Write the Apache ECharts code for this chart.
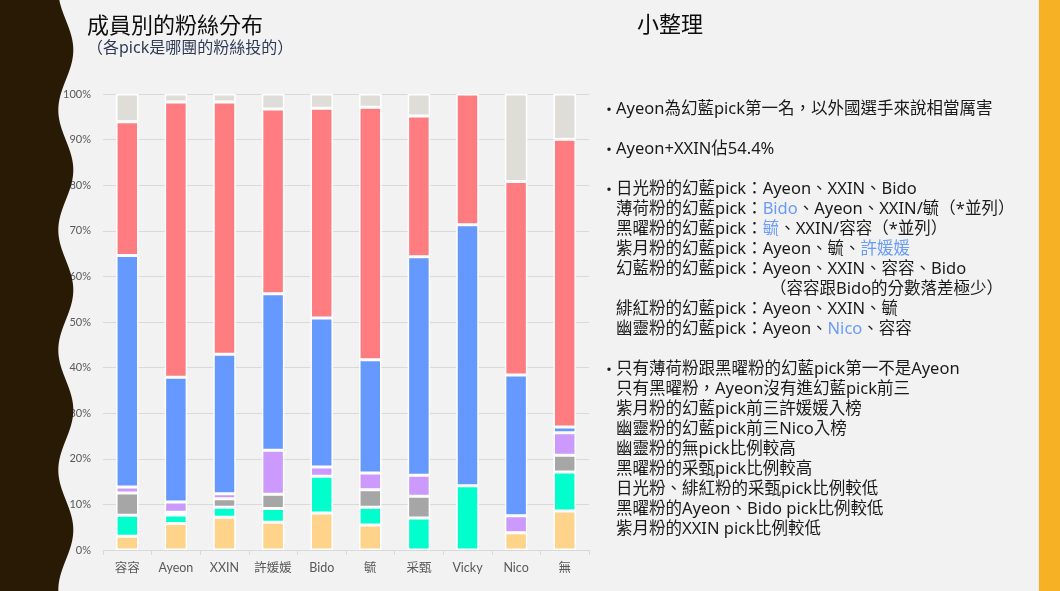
<!DOCTYPE html>
<html>
<head>
<meta charset="utf-8">
<script src="https://cdn.jsdelivr.net/npm/echarts@6/dist/echarts.min.js"></script>
<style>
  html, body { margin: 0; padding: 0; background: #F2F2F2; }
  #main { width: 1060px; height: 591px; }
</style>
</head>
<body>
<div id="main"></div>
<script>
// 成員（x軸）
var members = ['容容', 'Ayeon', 'XXIN', '許媛媛', 'Bido', '毓', '采甄', 'Vicky', 'Nico', '無']

// 各粉絲團的pick比例（%），由下往上堆疊
var groupNames = ['日光粉', '薄荷粉', '黑曜粉', '紫月粉', '幻藍粉', '緋紅粉', '幽靈粉']
var sunFans = [3.0, 5.8, 7.2, 6.1, 8.1, 5.5, 0, 0, 3.8, 8.55]
var mintFans = [4.6, 1.9, 2.2, 3.0, 8.1, 3.9, 7.0, 14.1, 0, 8.55]
var obsidianFans = [4.9, 0.6, 1.85, 3.1, 0, 3.8, 4.8, 0, 0, 3.7]
var violetFans = [1.3, 2.2, 1.1, 9.7, 2.0, 3.7, 4.6, 0, 3.7, 4.9]
var blueFans = [50.8, 27.4, 30.6, 34.3, 32.7, 24.8, 47.9, 57.2, 30.9, 1.3]
var redFans = [29.3, 60.35, 55.3, 40.5, 46.0, 55.4, 30.9, 28.7, 42.4, 63.1]
var ghostFans = [6.1, 1.75, 1.75, 3.3, 3.1, 2.9, 4.8, 0, 19.2, 9.9]
var groupValues = [sunFans, mintFans, obsidianFans, violetFans, blueFans, redFans, ghostFans]
var groupColors = ['#FFD38A', '#00FFCC', '#A6A6A6', '#CC99FF', '#6699FF', '#FF7C80', '#DEDDD8']

// y軸刻度
var yTicks = [0, 10, 20, 30, 40, 50, 60, 70, 80, 90, 100]

// 右側「小整理」文字，{b|...} 為藍色標示
var notes = [
  { bullet: true, y: 109, text: 'Ayeon為幻藍pick第一名，以外國選手來說相當厲害' },
  { bullet: true, y: 149, text: 'Ayeon+XXIN佔54.4%' },
  { bullet: true, y: 189, text: '日光粉的幻藍pick：Ayeon、XXIN、Bido' },
  { y: 209, text: '薄荷粉的幻藍pick：{b|Bido}、Ayeon、XXIN/毓（*並列）' },
  { y: 229, text: '黑曜粉的幻藍pick：{b|毓}、XXIN/容容（*並列）' },
  { y: 249, text: '紫月粉的幻藍pick：Ayeon、毓、{b|許媛媛}' },
  { y: 269, text: '幻藍粉的幻藍pick：Ayeon、XXIN、容容、Bido' },
  { y: 289, x: 770, text: '（容容跟Bido的分數落差極少）' },
  { y: 309, text: '緋紅粉的幻藍pick：Ayeon、XXIN、毓' },
  { y: 329, text: '幽靈粉的幻藍pick：Ayeon、{b|Nico}、容容' },
  { bullet: true, y: 369, text: '只有薄荷粉跟黑曜粉的幻藍pick第一不是Ayeon' },
  { y: 389, text: '只有黑曜粉，Ayeon沒有進幻藍pick前三' },
  { y: 409, text: '紫月粉的幻藍pick前三許媛媛入榜' },
  { y: 429, text: '幽靈粉的幻藍pick前三Nico入榜' },
  { y: 449, text: '幽靈粉的無pick比例較高' },
  { y: 469, text: '黑曜粉的采甄pick比例較高' },
  { y: 489, text: '日光粉、緋紅粉的采甄pick比例較低' },
  { y: 509, text: '黑曜粉的Ayeon、Bido pick比例較低' },
  { y: 529, text: '紫月粉的XXIN pick比例較低' }
]

var cjk = '"Noto Sans CJK TC"'
var mixed = '"Noto Sans", "Noto Sans CJK TC"'
var chart = echarts.init(document.getElementById('main'))

// 左側波浪裝飾
var wave = []
for (var wy = -6; wy <= 600; wy += 3) {
  wave.push([65.8 + 7.5 * Math.cos(2 * Math.PI * (wy - 50) / 120), wy])
}
wave.push([0, 600])
wave.push([0, -6])

var graphics = [
  {
    type: 'polygon',
    z: 100,
    shape: { points: wave },
    style: { fill: '#281A04' }
  },
  {
    type: 'rect',
    z: 100,
    shape: { x: 1039, y: 0, width: 21, height: 591 },
    style: { fill: '#F7B125' }
  },
  {
    type: 'text',
    x: 87,
    y: 25,
    style: { text: '成員別的粉絲分布', fontSize: 22, fontFamily: cjk, fill: '#0D0D0D', verticalAlign: 'middle' }
  },
  {
    type: 'text',
    x: 87,
    y: 48,
    style: { text: '（各pick是哪團的粉絲投的）', fontSize: 16, fontFamily: mixed, fill: '#2E3A55', verticalAlign: 'middle' }
  },
  {
    type: 'text',
    x: 637,
    y: 24,
    style: { text: '小整理', fontSize: 22, fontFamily: cjk, fill: '#0D0D0D', verticalAlign: 'middle' }
  }
]

notes.forEach(function (n) {
  if (n.bullet) {
    graphics.push({
      type: 'text',
      x: 601,
      y: n.y,
      style: { text: '·', fontSize: 16, fontFamily: cjk, fill: '#1A1A1A', verticalAlign: 'middle' }
    })
  }
  graphics.push({
    type: 'text',
    x: n.x || 616,
    y: n.y,
    style: {
      text: n.text,
      fontSize: 16.5,
      fontFamily: mixed,
      fill: '#1A1A1A',
      verticalAlign: 'middle',
      rich: {
        b: { fontSize: 16.5, fontFamily: mixed, fill: '#6A9BFF' }
      }
    }
  })
})

var series = groupNames.map(function (name, i) {
  return {
    name: name,
    type: 'bar',
    stack: 'total',
    barWidth: 22.5,
    itemStyle: {
      color: groupColors[i],
      borderColor: '#FFFFFF',
      borderWidth: 1.5
    },
    data: groupValues[i].map(function (v) { return v === 0 ? '-' : v })
  }
})

var option = {
  backgroundColor: '#F2F2F2',
  animation: false,
  grid: {
    left: 103,
    right: 471,
    top: 94,
    bottom: 41
  },
  xAxis: {
    type: 'category',
    data: members,
    axisLine: { lineStyle: { color: '#D9D9D9' } },
    axisTick: { show: true, length: 5, lineStyle: { color: '#D9D9D9' } },
    axisLabel: {
      interval: 0,
      color: '#595959',
      fontSize: 12.5,
      fontFamily: 'Lato, ' + cjk,
      margin: 12
    }
  },
  yAxis: {
    type: 'value',
    min: yTicks[0],
    max: yTicks[yTicks.length - 1],
    interval: yTicks[1] - yTicks[0],
    axisLine: { show: false },
    axisTick: { show: false },
    splitLine: { lineStyle: { color: '#D9D9D9', width: 1 } },
    axisLabel: {
      formatter: '{value}%',
      color: '#595959',
      fontSize: 11,
      fontFamily: 'Lato, ' + cjk,
      margin: 12
    }
  },
  graphic: graphics,
  series: series
}

chart.setOption(option)
</script>
</body>
</html>
